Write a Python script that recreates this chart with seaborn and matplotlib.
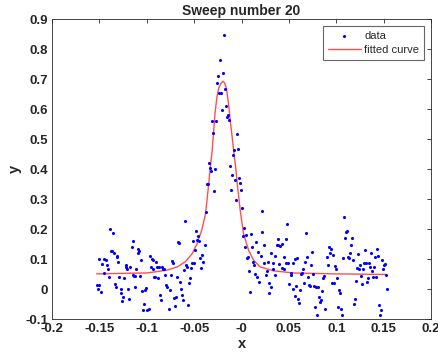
import numpy as np
import pandas as pd
import seaborn as sns
import matplotlib
matplotlib.use("Agg")
import matplotlib.pyplot as plt
from matplotlib.ticker import FuncFormatter

x_data = [-0.1525, -0.152, -0.151, -0.150, -0.148, -0.147, -0.1455, -0.145, -0.143, -0.1425,
          -0.141, -0.140, -0.139, -0.1375, -0.1365, -0.136, -0.135, -0.1335, -0.1325, -0.132,
          -0.131, -0.130, -0.129, -0.1275, -0.127, -0.126, -0.125, -0.124, -0.1225, -0.1215,
          -0.1205, -0.1195, -0.1185, -0.1175, -0.116, -0.115, -0.1145, -0.1135, -0.1128, -0.112,
          -0.111, -0.1095, -0.109, -0.108, -0.107, -0.106, -0.105, -0.104, -0.1025, -0.1015,
          -0.1005, -0.100, -0.098, -0.097, -0.096, -0.095, -0.094, -0.0935, -0.092, -0.091,
          -0.090, -0.089, -0.088, -0.087, -0.086, -0.085, -0.084, -0.0825, -0.0815, -0.0805,
          -0.0795, -0.0785, -0.077, -0.076, -0.0745, -0.0735, -0.0725, -0.0715, -0.070, -0.069,
          -0.068, -0.067, -0.066, -0.065, -0.064, -0.063, -0.062, -0.061, -0.060, -0.0585,
          -0.0575, -0.0565, -0.0555, -0.0545, -0.0535, -0.0525, -0.0515, -0.050, -0.049, -0.048,
          -0.047, -0.046, -0.045, -0.0435, -0.0425, -0.0415, -0.0405, -0.039, -0.0375, -0.0365,
          -0.0355, -0.034, -0.0335, -0.032, -0.031, -0.030, -0.029, -0.028, -0.027, -0.026,
          -0.025, -0.024, -0.023, -0.022, -0.0207, -0.0197, -0.0186, -0.0176, -0.0165, -0.0155,
          -0.0144, -0.0134, -0.0123, -0.0112, -0.0105, -0.0095, -0.0084, -0.0074, -0.0063, -0.0053,
          -0.0042, -0.0032, -0.0021, -0.0011, 0.0007, 0.0014, 0.0025, 0.0035, 0.0046, 0.0056,
          0.0067, 0.0077, 0.0091, 0.0102, 0.0112, 0.0123, 0.0134, 0.0144, 0.0155, 0.0165,
          0.0176, 0.0186, 0.020, 0.0211, 0.0221, 0.0232, 0.0242, 0.0253, 0.0264, 0.0274,
          0.0285, 0.0295, 0.0306, 0.0316, 0.0327, 0.0337, 0.0348, 0.0358, 0.0369, 0.038,
          0.039, 0.040, 0.0411, 0.0422, 0.0432, 0.0443, 0.0453, 0.0464, 0.0474, 0.0485,
          0.0495, 0.0506, 0.0517, 0.0527, 0.0538, 0.0548, 0.0559, 0.0569, 0.058, 0.059,
          0.0601, 0.0611, 0.0622, 0.0632, 0.0643, 0.0653, 0.0664, 0.0674, 0.0685, 0.0696,
          0.0706, 0.0717, 0.0727, 0.0738, 0.0748, 0.0759, 0.0769, 0.078, 0.079, 0.0801,
          0.0812, 0.0822, 0.0833, 0.0843, 0.0854, 0.0864, 0.0875, 0.0885, 0.090, 0.091,
          0.092, 0.0931, 0.0942, 0.0952, 0.0963, 0.0973, 0.0984, 0.0994, 0.1005, 0.1015,
          0.1026, 0.1037, 0.1047, 0.1058, 0.1068, 0.1079, 0.1089, 0.110, 0.111, 0.1121,
          0.1131, 0.1142, 0.1152, 0.1163, 0.1174, 0.1184, 0.1195, 0.1205, 0.1216, 0.1226,
          0.1237, 0.1247, 0.1258, 0.1268, 0.1279, 0.129, 0.130, 0.131, 0.1321, 0.1332,
          0.1342, 0.1353, 0.1363, 0.1374, 0.1384, 0.1395, 0.1405, 0.1416, 0.1427, 0.1437,
          0.1448, 0.1458, 0.1469, 0.1479, 0.149, 0.150, 0.1511, 0.1521, 0.1532]
y_data = [0.013, -0.001, 0.100, 0.013, -0.009, 0.083, 0.054, 0.100, 0.097, 0.079,
          0.068, 0.039, 0.201, 0.128, 0.128, 0.186, 0.119, 0.016, 0.006, 0.108,
          0.112, 0.090, 0.041, 0.001, -0.014, -0.040, -0.026, 0.037, 0.079, 0.074,
          0.068, 0.002, -0.032, 0.074, 0.139, 0.161, 0.048, 0.043, 0.008, 0.043,
          0.066, 0.119, 0.134, 0.126, 0.043, 0.097, -0.006, -0.068, -0.048, -0.003,
          0.003, -0.068, -0.066, 0.110, 0.074, 0.099, 0.097, 0.068, 0.041, 0.039,
          0.092, 0.074, 0.037, 0.074, -0.019, -0.037, 0.074, 0.068, 0.068, 0.046,
          0.013, 0.006, -0.066, -0.003, 0.048, 0.094, 0.086, -0.030, -0.057, -0.026,
          0.041, 0.157, 0.154, 0.023, -0.001, -0.019, -0.037, 0.063, 0.228, 0.079,
          0.074, -0.052, 0.019, 0.037, 0.070, 0.088, 0.159, 0.088, 0.132, 0.194,
          0.163, 0.177, 0.161, 0.103, 0.070, 0.114, 0.090, 0.148, 0.257, 0.352,
          0.352, 0.419, 0.403, 0.394, 0.559, 0.521, 0.328, 0.401, 0.559, 0.688,
          0.710, 0.654, 0.763, 0.654, 0.597, 0.721, 0.848, 0.666, 0.610, 0.574,
          0.581, 0.563, 0.412, 0.332, 0.381, 0.446, 0.463, 0.363, 0.297, 0.517,
          0.468, 0.370, 0.354, 0.330, 0.272, 0.177, 0.203, 0.141, 0.179, 0.103,
          0.106, 0.059, -0.008, 0.183, 0.139, 0.090, 0.079, 0.050, 0.157, 0.039,
          0.123, 0.023, 0.110, 0.259, 0.190, 0.148, 0.086, 0.046, 0.061, 0.090,
          0.019, -0.014, 0.008, 0.119, 0.068, 0.086, 0.046, 0.112, 0.148, 0.168,
          0.146, 0.083, 0.143, 0.070, 0.152, 0.068, 0.106, 0.088, 0.168, 0.217,
          0.088, 0.017, 0.046, 0.054, 0.088, 0.001, -0.023, 0.099, 0.012, 0.103,
          -0.032, -0.046, -0.003, 0.050, 0.054, 0.066, 0.021, 0.092, 0.188, 0.108,
          0.041, 0.014, 0.012, 0.079, 0.123, 0.050, 0.012, -0.059, 0.008, -0.086,
          0.006, -0.026, -0.043, -0.037, -0.006, 0.037, 0.043, -0.066, 0.108, 0.081,
          0.139, 0.119, 0.134, 0.021, 0.114, 0.021, 0.077, 0.068, 0.037, -0.059,
          -0.003, -0.014, -0.066, -0.086, 0.103, 0.239, 0.170, 0.190, 0.194, 0.108,
          0.103, 0.121, 0.146, 0.170, 0.097, -0.050, -0.034, 0.026, 0.072, 0.117,
          0.068, 0.079, 0.043, 0.017, 0.068, 0.086, 0.130, 0.088, 0.023, 0.037,
          0.086, 0.074, 0.121, 0.061, 0.041, 0.074, 0.108, 0.039, 0.134, 0.112,
          -0.052, -0.086, -0.068, 0.097, 0.066, 0.079, 0.083, 0.046, 0.001]

# fitted curve
x_fit = [-0.153, -0.100, -0.079, -0.068, -0.059, -0.052, -0.047, -0.042, -0.038, -0.035,
         -0.0335, -0.031, -0.028, -0.026, -0.0242, -0.022, -0.0197, -0.018, -0.016, -0.014,
         -0.012, -0.010, -0.0084, -0.006, -0.0042, -0.0014, 0.002, 0.0074, 0.0126, 0.0197,
         0.0337, 0.055, 0.097, 0.153]
y_fit = [0.051, 0.054, 0.063, 0.074, 0.092, 0.119, 0.152, 0.197, 0.252, 0.341,
         0.390, 0.463, 0.586, 0.640, 0.669, 0.685, 0.693, 0.688, 0.669, 0.625,
         0.563, 0.510, 0.463, 0.400, 0.341, 0.263, 0.186, 0.130, 0.097, 0.074,
         0.061, 0.054, 0.051, 0.049]

df_data = pd.DataFrame({"x": x_data, "y": y_data})
df_fit = pd.DataFrame({"x": x_fit, "y": y_fit})

sns.set_style("white")
plt.rcParams["font.family"] = ["Liberation Sans", "DejaVu Sans"]
plt.rcParams["font.weight"] = "bold"

fig = plt.figure(figsize=(4.38, 3.55), dpi=100)
ax = fig.add_axes([0.119, 0.101, 0.865, 0.845])

sns.scatterplot(data=df_data, x="x", y="y", ax=ax, color="blue", s=5,
                linewidth=0, marker="o", label="data", zorder=3)
sns.lineplot(data=df_fit, x="x", y="y", ax=ax, color="#ff3030", lw=1.0,
             alpha=0.85, label="fitted curve", zorder=2, sort=False)

ax.set_xlim(-0.2, 0.2)
ax.set_ylim(-0.1, 0.9)
ax.set_xticks(np.arange(-0.2, 0.2001, 0.05))
ax.set_yticks(np.arange(-0.1, 0.9001, 0.1))
fmt = FuncFormatter(lambda v, p: "%g" % round(v, 3))
ax.xaxis.set_major_formatter(fmt)
ax.yaxis.set_major_formatter(fmt)
ax.tick_params(direction="in", length=3, width=0.6, labelsize=9.5,
               top=True, right=True, colors="#262626", pad=3)
for s in ax.spines.values():
    s.set_color("#262626")
    s.set_linewidth(0.6)

ax.set_title("Sweep number 20", fontsize=10, fontweight="bold", pad=3)
ax.set_xlabel("x", fontsize=10.5, fontweight="bold", labelpad=1)
ax.set_ylabel("y", fontsize=10.5, fontweight="bold", labelpad=2)

leg = ax.legend(loc="upper right", fontsize=8, frameon=True, fancybox=False,
                edgecolor="#404040", handlelength=3.0, handletextpad=0.3,
                labelspacing=0.4, borderpad=0.45, borderaxespad=0.6,
                markerscale=1.0)
leg.get_frame().set_linewidth(0.8)
for t in leg.get_texts():
    t.set_fontweight("normal")

fig.savefig("out.png", dpi=100)
